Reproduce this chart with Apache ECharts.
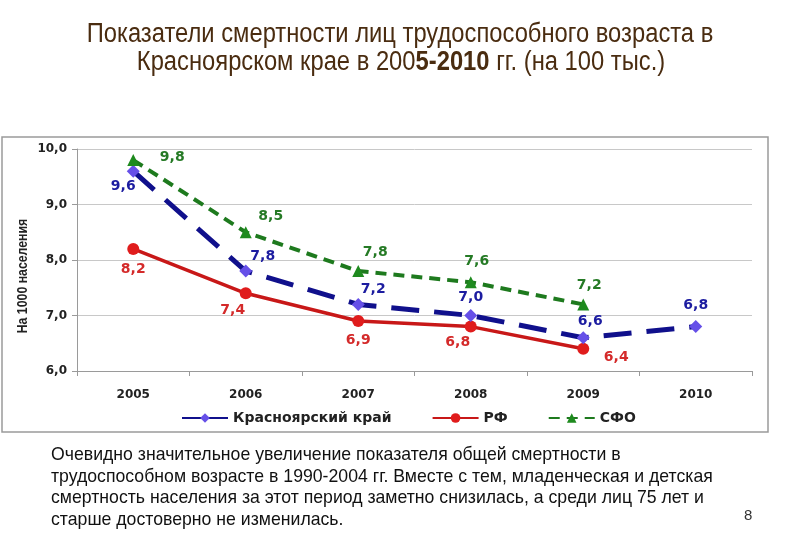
<!DOCTYPE html>
<html>
<head>
<meta charset="utf-8">
<script src="https://cdn.jsdelivr.net/npm/echarts@6/dist/echarts.min.js"></script>
<style>
  html, body { margin: 0; padding: 0; background: #fff; }
  #main { width: 800px; height: 554px; }
</style>
</head>
<body>
<div id="main"></div>
<script>
// годы и показатели
var years = ['2005', '2006', '2007', '2008', '2009', '2010'];
var krasData = [9.6, 7.8, 7.2, 7.0, 6.6, 6.8];
var rfData = [8.2, 7.4, 6.9, 6.8, 6.4, null];
var sfoData = [9.8, 8.5, 7.8, 7.6, 7.2, null];
var yTicks = [6, 7, 8, 9, 10];

// смещения подписей от точки
var krasLabelPos = [[-10, 15], [17, -15], [15, -15], [0, -18], [7, -16], [0, -21]];
var rfLabelPos = [[0, 20], [-13, 17], [0, 19], [-13, 16], [33, 9], null];
var sfoLabelPos = [[39, -3], [25, -16], [17, -19], [6, -21], [6, -19], null];

var bottomText = [
    'Очевидно значительное увеличение показателя общей смертности в',
    'трудоспособном возрасте в 1990-2004 гг. Вместе с тем, младенческая и детская',
    'смертность населения за этот период заметно снизилась, а среди лиц 75 лет и',
    'старше достоверно не изменилась.'
];

function fmt(v) {
    return v.toFixed(1).replace('.', ',');
}

function buildData(values, offsets, color) {
    return values.map(function (v, i) {
        if (v === null) return null;
        return {
            value: v,
            label: {
                show: true,
                offset: offsets[i],
                position: 'inside',
                color: color,
                fontSize: 14,
                fontWeight: 'bold',
                fontFamily: 'DejaVu Sans',
                formatter: function (p) { return fmt(p.value); }
            }
        };
    });
}

var myChart = echarts.init(document.getElementById('main'));

// шрифт заголовка узкий, поэтому сжимаем по горизонтали
var titleFont = '27px "Liberation Sans", Arial, sans-serif';
var graphics = [
    {
        type: 'rect',
        shape: { x: 2, y: 137, width: 766, height: 295 },
        style: { fill: 'none', stroke: '#9a9a9a', lineWidth: 1.5 },
        z: -1
    },
    {
        type: 'text',
        x: 400,
        y: 35,
        scaleX: 0.88,
        style: {
            text: 'Показатели смертности лиц трудоспособного возраста в',
            font: titleFont,
            fill: '#4a2c10',
            align: 'center',
            verticalAlign: 'middle'
        }
    },
    {
        type: 'text',
        x: 401,
        y: 63,
        scaleX: 0.88,
        style: {
            text: '{n|Красноярском крае в 200}{b|5-2010}{n| гг. (на 100 тыс.)}',
            align: 'center',
            verticalAlign: 'middle',
            rich: {
                n: { font: titleFont, fill: '#4a2c10' },
                b: { font: 'bold ' + titleFont, fill: '#4a2c10' }
            }
        }
    },
    {
        // подпись оси Y
        type: 'text',
        x: 23,
        y: 276,
        rotation: Math.PI / 2,
        scaleX: 0.82,
        style: {
            text: 'На 1000 населения',
            font: 'bold 15px "Liberation Sans", Arial, sans-serif',
            fill: '#222',
            align: 'center',
            verticalAlign: 'middle'
        }
    },
    {
        type: 'text',
        x: 744,
        y: 508,
        style: { text: '8', font: '15px "Liberation Sans", Arial', fill: '#333' }
    }
];

bottomText.forEach(function (line, i) {
    graphics.push({
        type: 'text',
        x: 51,
        y: 455 + i * 21.5,
        scaleX: 0.93,
        style: {
            text: line,
            font: '19px "Liberation Sans", Arial, sans-serif',
            fill: '#111',
            verticalAlign: 'middle'
        }
    });
});

myChart.setOption({
    animation: false,
    grid: { left: 77, right: 48, top: 149, bottom: 183 },
    graphic: graphics,
    legend: {
        bottom: 124,
        left: 176,
        itemWidth: 46,
        itemHeight: 12,
        itemGap: 40,
        textStyle: {
            fontFamily: 'DejaVu Sans',
            fontWeight: 'bold',
            fontSize: 14,
            color: '#222'
        },
        data: [
            { name: 'Красноярский край', lineStyle: { type: 'solid' } },
            'РФ',
            'СФО'
        ]
    },
    xAxis: {
        type: 'category',
        data: years,
        boundaryGap: true,
        axisLine: { lineStyle: { color: '#9a9a9a', width: 1 } },
        axisTick: { show: true, length: 5, lineStyle: { color: '#9a9a9a' } },
        axisLabel: {
            margin: 18,
            fontFamily: 'DejaVu Sans',
            fontWeight: 'bold',
            fontSize: 12,
            color: '#222'
        }
    },
    yAxis: {
        type: 'value',
        min: 6,
        max: 10,
        interval: 1,
        axisLine: { show: true, lineStyle: { color: '#9a9a9a' } },
        axisTick: { show: true, length: 5, lineStyle: { color: '#9a9a9a' } },
        splitLine: { lineStyle: { color: '#c8c8c8', width: 1 } },
        axisLabel: {
            margin: 10,
            fontFamily: 'DejaVu Sans',
            fontWeight: 'bold',
            fontSize: 12,
            color: '#222',
            formatter: function (v) {
                return yTicks.indexOf(v) >= 0 ? fmt(v) : '';
            }
        }
    },
    series: [
        {
            name: 'Красноярский край',
            type: 'line',
            data: buildData(krasData, krasLabelPos, '#1c1ca0'),
            symbol: 'diamond',
            symbolSize: 13,
            itemStyle: { color: '#6650e8' },
            lineStyle: { color: '#10108c', width: 5, type: [28, 15] },
            z: 3
        },
        {
            name: 'РФ',
            type: 'line',
            data: buildData(rfData, rfLabelPos, '#d42a2a'),
            symbol: 'circle',
            symbolSize: 12,
            itemStyle: { color: '#e01c1c' },
            lineStyle: { color: '#c81818', width: 3.5 },
            z: 2
        },
        {
            name: 'СФО',
            type: 'line',
            data: buildData(sfoData, sfoLabelPos, '#257a25'),
            symbol: 'triangle',
            symbolSize: 12,
            itemStyle: { color: '#1e8a1e' },
            lineStyle: { color: '#1e7a1e', width: 4, type: [11, 7] },
            z: 4
        }
    ]
});
</script>
</body>
</html>
